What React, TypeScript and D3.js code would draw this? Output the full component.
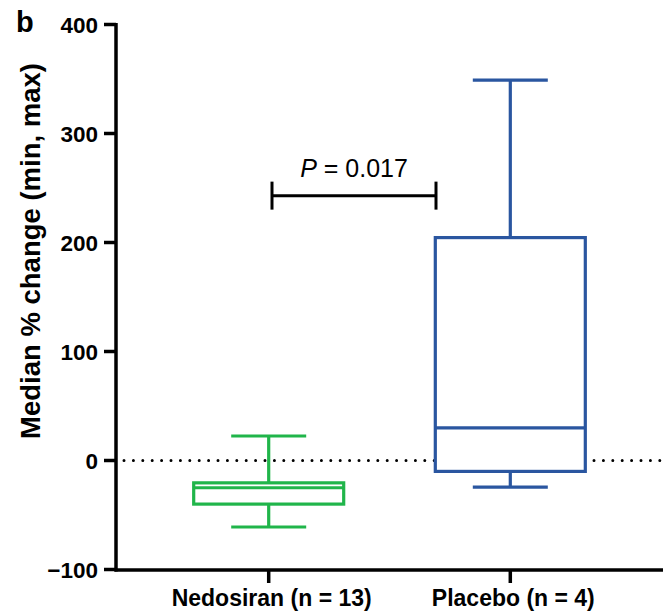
import React from "react"
import * as d3 from "d3"

// box plot summaries (% change from baseline)
const groups = ["Nedosiran (n = 13)", "Placebo (n = 4)"]
const colors = ["#20b54a", "#2a56a0"]
const mins = [-61, -24.5]
const q1s = [-40, -10]
const medians = [-25, 30]
const q3s = [-20.5, 204.5]
const maxs = [22.5, 349]
const yTicks = [-100, 0, 100, 200, 300, 400]
const pLabel = "0.017"
const pBracketY = 243

const W = 667
const H = 613
const axisX = 116
const axisBottom = 570

const App = () => {
    const y = d3.scaleLinear().domain([-100, 400]).range([569.5, 24.5])
    const x = d3.scalePoint<string>().domain(groups).range([axisX, 663]).padding(0.632)

    const boxW = 150
    const capW = 75
    const font = "'Liberation Sans', Arial, sans-serif"

    return (
        <svg width={W} height={H} style={{position: "absolute", left: 0, top: 0, background: "#fff"}} fontFamily={font}>
            {/* panel letter */}
            <text x={16} y={32} fontSize={29} fontWeight="bold">b</text>

            {/* y axis */}
            <line x1={axisX} x2={axisX} y1={y(400) - 1.5} y2={axisBottom + 1.5} stroke="#000" strokeWidth={3.5} />
            {yTicks.map(t => (
                <g key={t}>
                    <line x1={axisX - 12} x2={axisX} y1={y(t)} y2={y(t)} stroke="#000" strokeWidth={3.5} />
                    <text x={98} y={y(t)} dy="0.36em" textAnchor="end" fontSize={22.5} fontWeight="bold">
                        {t < 0 ? "\u2212" + Math.abs(t) : t}
                    </text>
                </g>
            ))}
            <text transform={`translate(40,251) rotate(-90)`} textAnchor="middle" fontSize={27.5} fontWeight="bold">
                Median % change (min, max)
            </text>

            {/* x axis */}
            <line x1={axisX - 1.5} x2={663} y1={axisBottom} y2={axisBottom} stroke="#000" strokeWidth={3.5} />
            {groups.map(g => (
                <g key={g}>
                    <line x1={x(g)} x2={x(g)} y1={axisBottom} y2={axisBottom + 13} stroke="#000" strokeWidth={3.5} />
                    <text x={(x(g) as number) + 3} y={606} textAnchor="middle" fontSize={23} fontWeight="bold">{g}</text>
                </g>
            ))}

            {/* zero reference */}
            <line x1={axisX + 8} x2={660} y1={y(0)} y2={y(0)} stroke="#000" strokeWidth={3}
                strokeLinecap="round" strokeDasharray="0 9.4" />

            {/* boxes */}
            {groups.map((g, i) => {
                const cx = x(g) as number
                const c = colors[i]
                return (
                    <g key={g} stroke={c} strokeWidth={3.2} fill="none">
                        <line x1={cx} x2={cx} y1={y(maxs[i])} y2={y(q3s[i])} />
                        <line x1={cx} x2={cx} y1={y(q1s[i])} y2={y(mins[i])} />
                        <line x1={cx - capW / 2} x2={cx + capW / 2} y1={y(maxs[i])} y2={y(maxs[i])} />
                        <line x1={cx - capW / 2} x2={cx + capW / 2} y1={y(mins[i])} y2={y(mins[i])} />
                        <rect x={cx - boxW / 2} y={y(q3s[i])} width={boxW} height={y(q1s[i]) - y(q3s[i])} fill="#fff" />
                        <line x1={cx - boxW / 2} x2={cx + boxW / 2} y1={y(medians[i])} y2={y(medians[i])} />
                    </g>
                )
            })}

            {/* significance bracket */}
            <g stroke="#000" strokeWidth={3}>
                <line x1={272} x2={436} y1={y(pBracketY)} y2={y(pBracketY)} />
                <line x1={272} x2={272} y1={y(pBracketY) - 14} y2={y(pBracketY) + 14} />
                <line x1={436} x2={436} y1={y(pBracketY) - 14} y2={y(pBracketY) + 14} />
            </g>
            <text x={354} y={177} textAnchor="middle" fontSize={25}>
                <tspan fontStyle="italic">P</tspan> = {pLabel}
            </text>
        </svg>
    )
}

export default App
